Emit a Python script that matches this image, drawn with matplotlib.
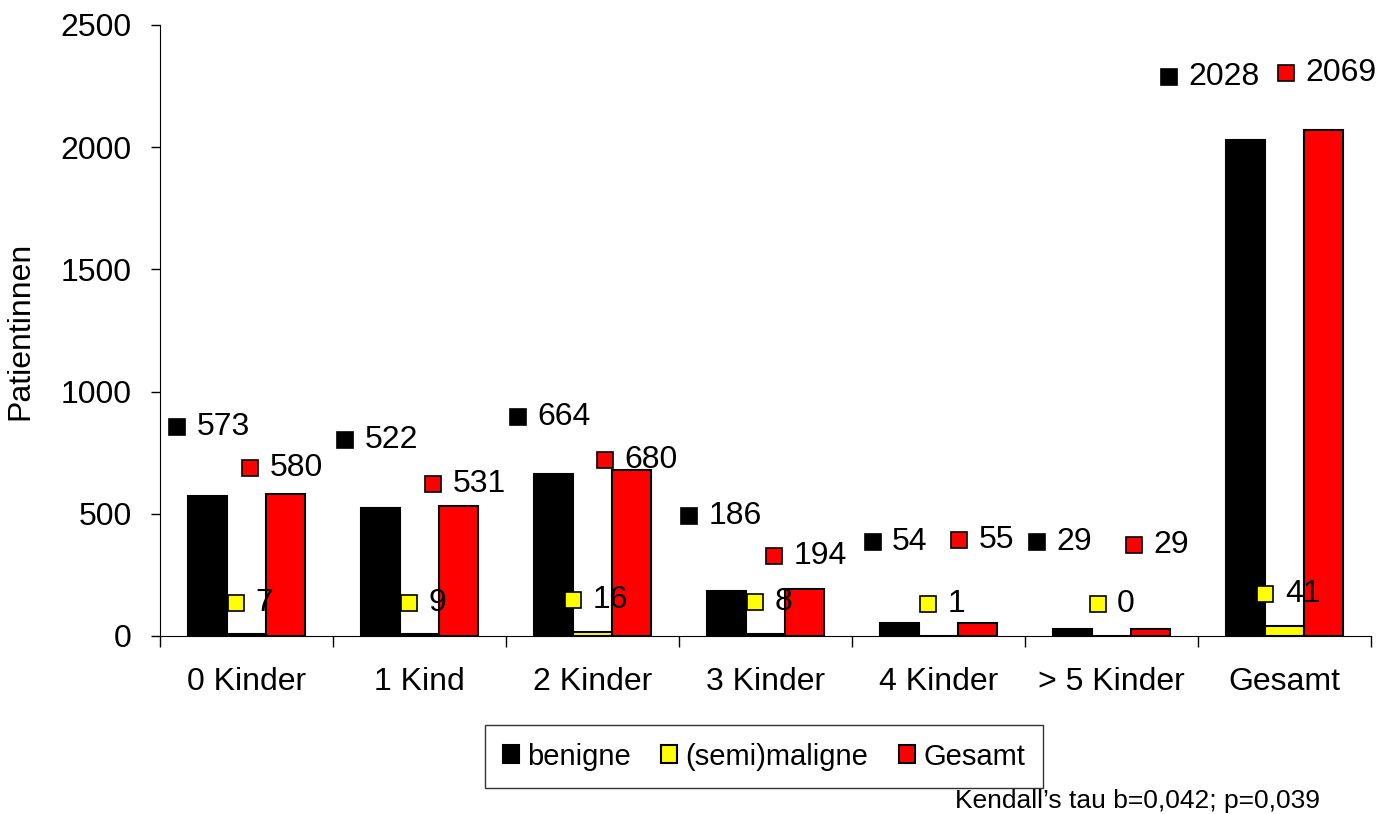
import numpy as np
import matplotlib.pyplot as plt

plt.rcParams['font.family'] = ['Liberation Sans', 'DejaVu Sans']

categories = ['0 Kinder', '1 Kind', '2 Kinder', '3 Kinder', '4 Kinder', '> 5 Kinder', 'Gesamt']
benigne = [573, 522, 664, 186, 54, 29, 2028]
semimaligne = [7, 9, 16, 8, 1, 0, 41]
gesamt = [580, 531, 680, 194, 55, 29, 2069]

series_names = ['benigne', '(semi)maligne', 'Gesamt']
series_colors = ['#000000', '#ffff00', '#ff0000']

# where Excel left the data labels (offset from group centre, y in data units)
label_dx = [[-0.40, -0.43, -0.43, -0.44, -0.38, -0.43, -0.67],
            [-0.06, -0.06, -0.11, -0.06, -0.06, -0.08, -0.11],
            [0.02, 0.08, 0.07, 0.05, 0.12, 0.13, 0.01]]
label_y = [[855, 802, 896, 491, 385, 385, 2287],
           [135, 135, 147, 139, 131, 131, 172],
           [687, 622, 720, 327, 393, 372, 2304]]


def main():
    fig = plt.figure(figsize=(13.94, 8.14), dpi=100)
    ax = fig.add_axes([0.1148, 0.2187, 0.8687, 0.7506])

    x = np.arange(len(categories))
    width = 0.225
    handles = []
    for i, (vals, color, name) in enumerate(zip([benigne, semimaligne, gesamt],
                                                 series_colors, series_names)):
        h = ax.bar(x + (i - 1) * width, vals, width, color=color,
                   edgecolor='black', linewidth=1.5, label=name, zorder=2)
        handles.append(h)
        for j, v in enumerate(vals):
            px = x[j] + label_dx[i][j]
            py = label_y[i][j]
            ax.plot(px, py, marker='s', markersize=12, color=color,
                    markeredgecolor='black', markeredgewidth=1.2, zorder=3)
            ax.annotate(str(v), (px, py), xytext=(14, 0), textcoords='offset points',
                        fontsize=23, va='center', ha='left', zorder=4)

    ax.set_xlim(-0.5, len(categories) - 0.5)
    ax.set_ylim(0, 2500)
    ax.set_yticks(np.arange(0, 2501, 500))
    ax.set_xticks(x)
    ax.set_xticklabels(categories, fontsize=23)
    ax.set_xticks(np.arange(-0.5, len(categories), 1), minor=True)
    ax.tick_params(axis='x', which='major', length=0, pad=22)
    ax.tick_params(axis='x', which='minor', length=8, width=1, direction='out')
    ax.tick_params(axis='y', labelsize=23, length=6.5, width=1, direction='out', pad=14)
    ax.spines['top'].set_visible(False)
    ax.spines['right'].set_visible(False)
    ax.set_ylabel('Patientinnen', fontsize=23, labelpad=18)

    leg = fig.legend(handles=handles, loc='center', bbox_to_anchor=(0.548, 0.0706),
                     ncol=3, fontsize=21, frameon=True, fancybox=False,
                     edgecolor='black', handlelength=0.55, handleheight=0.55,
                     handletextpad=0.28, columnspacing=1.05, borderpad=0.6,
                     borderaxespad=0)
    leg.get_frame().set_linewidth(1.0)

    fig.text(0.685, 0.0074, 'Kendall\u2019s tau b=0,042; p=0,039', fontsize=19,
             ha='left', va='baseline')

    fig.savefig('out.png', dpi=100)


if __name__ == "__main__":
    main()
